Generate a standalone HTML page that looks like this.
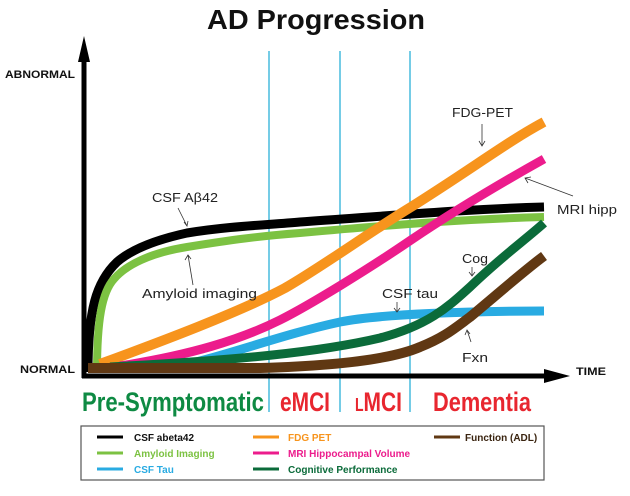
<!DOCTYPE html>
<html><head><meta charset="utf-8"><style>
body{margin:0;background:#fff;}
svg text{font-family:"Liberation Sans",sans-serif;}
</style></head><body>
<svg width="630" height="491" viewBox="0 0 630 491" xmlns="http://www.w3.org/2000/svg">
<text x="207" y="29" font-size="28" font-weight="bold" fill="#111" textLength="218" lengthAdjust="spacingAndGlyphs">AD Progression</text>
<g stroke="#2bb0d8" stroke-width="1.3">
<line x1="269" y1="51" x2="269" y2="412"/><line x1="340" y1="51" x2="340" y2="412"/><line x1="410" y1="51" x2="410" y2="412"/>
</g>
<line x1="84" y1="56" x2="84" y2="378" stroke="#000" stroke-width="5"/>
<polygon points="84,36 78,62 90,62" fill="#000"/>
<line x1="82" y1="376" x2="550" y2="376" stroke="#000" stroke-width="5"/>
<polygon points="570,376 544,369 544,383" fill="#000"/>
<text x="5" y="78" font-size="11" font-weight="bold" fill="#111" textLength="70" lengthAdjust="spacingAndGlyphs">ABNORMAL</text>
<text x="20" y="373" font-size="11" font-weight="bold" fill="#111" textLength="55" lengthAdjust="spacingAndGlyphs">NORMAL</text>
<text x="576" y="375" font-size="11" font-weight="bold" fill="#111" textLength="30" lengthAdjust="spacingAndGlyphs">TIME</text>
<g fill="none" stroke-linecap="butt">
<path d="M88,372 C88,310 96,282 117,262 C132,249 155,240 187,233 C230,226 268,225 300,222 C400,215 470,209 544,207" stroke="#000" stroke-width="9"/>
<path d="M97,372 C97,320 102,292 114,279 C126,265 150,253 187,247 C230,240 260,236 300,233 C400,224 470,219 544,217" stroke="#7cc242" stroke-width="8"/>
<path d="M100,364 C160,342 240,312 285,288 C320,268 370,232 411,207 C470,170 510,140 544,122" stroke="#f7941d" stroke-width="10"/>
<path d="M120,366 C190,355 240,340 280,320 C310,305 370,268 411,240 C460,207 510,178 544,159" stroke="#ec1c8c" stroke-width="9"/>
<path d="M175,367 C230,355 280,335 340,322 C380,314 470,311 544,311" stroke="#29abe2" stroke-width="9"/>
<path d="M110,367 C240,360 320,352 380,338 C430,325 450,305 470,287 C500,258 525,240 544,223" stroke="#0b6b3a" stroke-width="9"/>
<path d="M88,368 L260,368 C330,366 390,360 420,347 C445,337 455,328 470,317 C500,292 525,270 544,256" stroke="#603813" stroke-width="10"/>
</g>
<g font-family="'DejaVu Sans',sans-serif" font-size="13" fill="#222">
<text x="152" y="202" textLength="66" lengthAdjust="spacingAndGlyphs">CSF Aβ42</text>
<text x="142" y="298" textLength="115" lengthAdjust="spacingAndGlyphs">Amyloid imaging</text>
<text x="452" y="117" textLength="61" lengthAdjust="spacingAndGlyphs">FDG-PET</text>
<text x="557" y="214" textLength="60" lengthAdjust="spacingAndGlyphs">MRI hipp</text>
<text x="462" y="263" textLength="26" lengthAdjust="spacingAndGlyphs">Cog</text>
<text x="382" y="298" textLength="56" lengthAdjust="spacingAndGlyphs">CSF tau</text>
<text x="462" y="362" textLength="26" lengthAdjust="spacingAndGlyphs">Fxn</text>
</g>
<g stroke="#333" stroke-width="0.8" fill="none">
<path d="M178,208 L187,226 M184,222 L187,226 L188,221"/>
<path d="M193,285 L188,255 M185,260 L188,255 L191,259"/>
<path d="M482,124 L482,146 M479,141 L482,146 L485,141"/>
<path d="M573,196 L525,178 M528,183 L525,178 L531,177"/>
<path d="M472,267 L472,276 M469,272 L472,276 L475,272"/>
<path d="M397,302 L397,312 M394,308 L397,312 L400,308"/>
<path d="M471,342 L467,330 M465,335 L467,330 L470,334"/>
</g>
<g font-size="27" font-weight="bold">
<text x="82" y="411" fill="#0e8a43" textLength="182" lengthAdjust="spacingAndGlyphs">Pre-Symptomatic</text>
<text x="280" y="411" fill="#e8262f" textLength="50" lengthAdjust="spacingAndGlyphs">eMCI</text>
<text x="355" y="411" fill="#e8262f" textLength="47" lengthAdjust="spacingAndGlyphs"><tspan font-size="18">L</tspan>MCI</text>
<text x="433" y="411" fill="#e8262f" textLength="98" lengthAdjust="spacingAndGlyphs">Dementia</text>
</g>
<rect x="81" y="426" width="463" height="54" fill="#fff" stroke="#555" stroke-width="1.2"/>
<g stroke-width="3">
<line x1="97" y1="437" x2="123" y2="437" stroke="#000"/>
<line x1="97" y1="453" x2="123" y2="453" stroke="#7cc242"/>
<line x1="97" y1="469" x2="123" y2="469" stroke="#29abe2"/>
<line x1="253" y1="437" x2="279" y2="437" stroke="#f7941d"/>
<line x1="253" y1="453" x2="279" y2="453" stroke="#ec1c8c"/>
<line x1="253" y1="469" x2="279" y2="469" stroke="#0b6b3a"/>
<line x1="434" y1="437" x2="460" y2="437" stroke="#603813"/>
</g>
<g font-size="10" font-weight="bold">
<text x="134" y="441" fill="#111">CSF abeta42</text>
<text x="134" y="457" fill="#7cc242">Amyloid Imaging</text>
<text x="134" y="473" fill="#29abe2">CSF Tau</text>
<text x="288" y="441" fill="#f7941d">FDG PET</text>
<text x="288" y="457" fill="#ec1c8c">MRI Hippocampal Volume</text>
<text x="288" y="473" fill="#0b6b3a">Cognitive Performance</text>
<text x="465" y="441" fill="#3a2410">Function (ADL)</text>
</g>
</svg>
</body></html>
